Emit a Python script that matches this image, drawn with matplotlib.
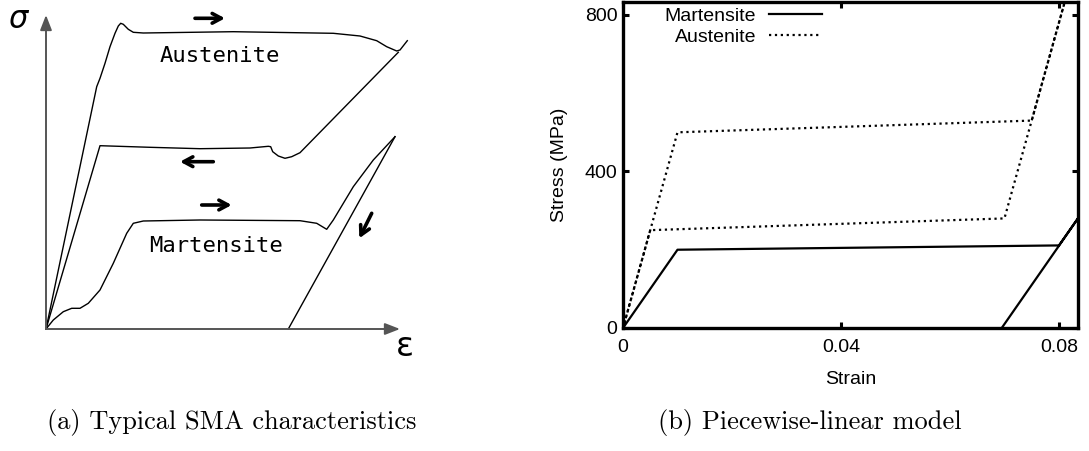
import matplotlib
matplotlib.use("Agg")
import matplotlib.pyplot as plt

# (a) schematic curves, arbitrary units (origin of the sketch at 0,0)
aus_load_x = [0, 50.7, 54, 59, 64, 69, 72.3, 74.7, 77.3, 82.3, 87.3, 97.3, 187.3, 287.3, 314, 330.7, 340.7, 350.7, 354, 361.3]
aus_load_y = [0, 242.3, 250.7, 265.7, 282.3, 295.7, 303, 305.7, 304.7, 299.7, 296.7, 296, 297.3, 295.7, 293, 288.3, 282.3, 278, 279, 288.3]
aus_unload_x = [352.3, 254, 245.7, 239, 232.3, 226.7, 224.7, 222.3, 204, 154, 104, 54, 0]
aus_unload_y = [276.7, 176.3, 172.3, 170.7, 173, 177.3, 182.3, 182.7, 181, 180.3, 181.7, 183.3, 0]
mar_load_x = [0, 7.3, 17.3, 25.7, 34, 42.3, 54, 67.3, 80.7, 87.3, 97.3, 154, 254, 270.7, 280.7, 287.3, 307.3, 327.3, 349]
mar_load_y = [0, 9, 17.3, 20.7, 20.7, 25.7, 39, 65.7, 95.7, 105.7, 108, 109, 108.3, 105.7, 99.7, 109, 142.3, 169, 192.3]
mar_unload_x = [349, 242.3]
mar_unload_y = [192.3, 0]

# (b) piecewise-linear model
mart_strain = [0, 0.01, 0.08, 0.09, 0.0695]
mart_stress = [0, 200, 211, 410, 0]
aust_strain = [0, 0.01, 0.075, 0.09, 0.07, 0.005, 0]
aust_stress = [0, 500, 530, 1280, 280, 250, 0]

W, H = 1089, 451
fig = plt.figure(figsize=(W / 100, H / 100), dpi=100)

# ---------- (a) ----------
ax1 = fig.add_axes([0, 0, 420 / W, 1])
ax1.set_xlim(-46, 374)
ax1.set_ylim(329 - H, 329)
ax1.axis("off")

lk = dict(color="black", lw=1.0)
ax1.plot(aus_load_x, aus_load_y, **lk)
ax1.plot(aus_unload_x, aus_unload_y, **lk)
ax1.plot(mar_load_x, mar_load_y, **lk)
ax1.plot(mar_unload_x, mar_unload_y, **lk)

axis_arrow = dict(arrowstyle="-|>,head_length=0.9,head_width=0.35", color="#555555", lw=1.4, shrinkA=0, shrinkB=0)
ax1.annotate("", xy=(0, 314), xytext=(0, 0), arrowprops=axis_arrow)
ax1.annotate("", xy=(354, 0), xytext=(0, 0), arrowprops=axis_arrow)

dir_arrow = dict(arrowstyle="->,head_length=0.65,head_width=0.35", color="black", lw=2.6, shrinkA=0, shrinkB=0)
ax1.annotate("", xy=(179, 310.7), xytext=(149, 310.7), arrowprops=dir_arrow)
ax1.annotate("", xy=(134, 167.3), xytext=(167.3, 167.3), arrowprops=dir_arrow)
ax1.annotate("", xy=(185.7, 124), xytext=(155.7, 124), arrowprops=dir_arrow)
ax1.annotate("", xy=(313.3, 90.7), xytext=(325.7, 115.7), arrowprops=dir_arrow)

ax1.text(174, 273, "Austenite", family="DejaVu Sans Mono", fontsize=16, ha="center", va="center")
ax1.text(169.7, 83, "Martensite", family="DejaVu Sans Mono", fontsize=16, ha="center", va="center")
ax1.text(-28, 309, "σ", fontsize=22, style="italic", ha="center", va="center")
ax1.text(359, -18, "ε", fontsize=24, ha="center", va="center")

# ---------- (b) ----------
ax2 = fig.add_axes([623 / W, (H - 328) / H, (1078 - 623) / W, (328 - 2) / H])
ax2.plot(mart_strain, mart_stress, color="black", lw=1.6, label="Martensite")
ax2.plot(aust_strain, aust_stress, color="black", lw=1.6, ls=":", label="Austenite")
ax2.set_xlim(0, 0.0835)
ax2.set_ylim(0, 833)
ax2.set_xticks([0, 0.04, 0.08])
ax2.set_xticklabels(["0", "0.04", "0.08"])
ax2.set_yticks([0, 400, 800])
ax2.set_yticklabels(["0", "400", "800"])
ax2.tick_params(direction="in", top=True, right=True, length=4, width=2.2, labelsize=14)
ax2.tick_params(axis="x", pad=8)
ax2.tick_params(axis="y", pad=4)
for lab in ax2.get_xticklabels() + ax2.get_yticklabels():
    lab.set_family("Liberation Sans")
for s in ax2.spines.values():
    s.set_linewidth(2.4)
ax2.set_xlabel("Strain", family="Liberation Sans", fontsize=14, labelpad=11)
ax2.set_ylabel("Stress (MPa)", family="Liberation Sans", fontsize=14, labelpad=12)

ax2.legend(loc="upper right", bbox_to_anchor=(0.437, 0.985), frameon=False,
           markerfirst=False, handlelength=2.7, handletextpad=0.67,
           labelspacing=0.2, borderpad=0, borderaxespad=0,
           prop={"family": "Liberation Sans", "size": 14})

# captions
fig.text(232 / W, 1 - 423 / H, "(a) Typical SMA characteristics", family="cmr10", fontsize=19, ha="center", va="center")
fig.text(810 / W, 1 - 423 / H, "(b) Piecewise-linear model", family="cmr10", fontsize=19, ha="center", va="center")

fig.savefig("out.png", dpi=100)
